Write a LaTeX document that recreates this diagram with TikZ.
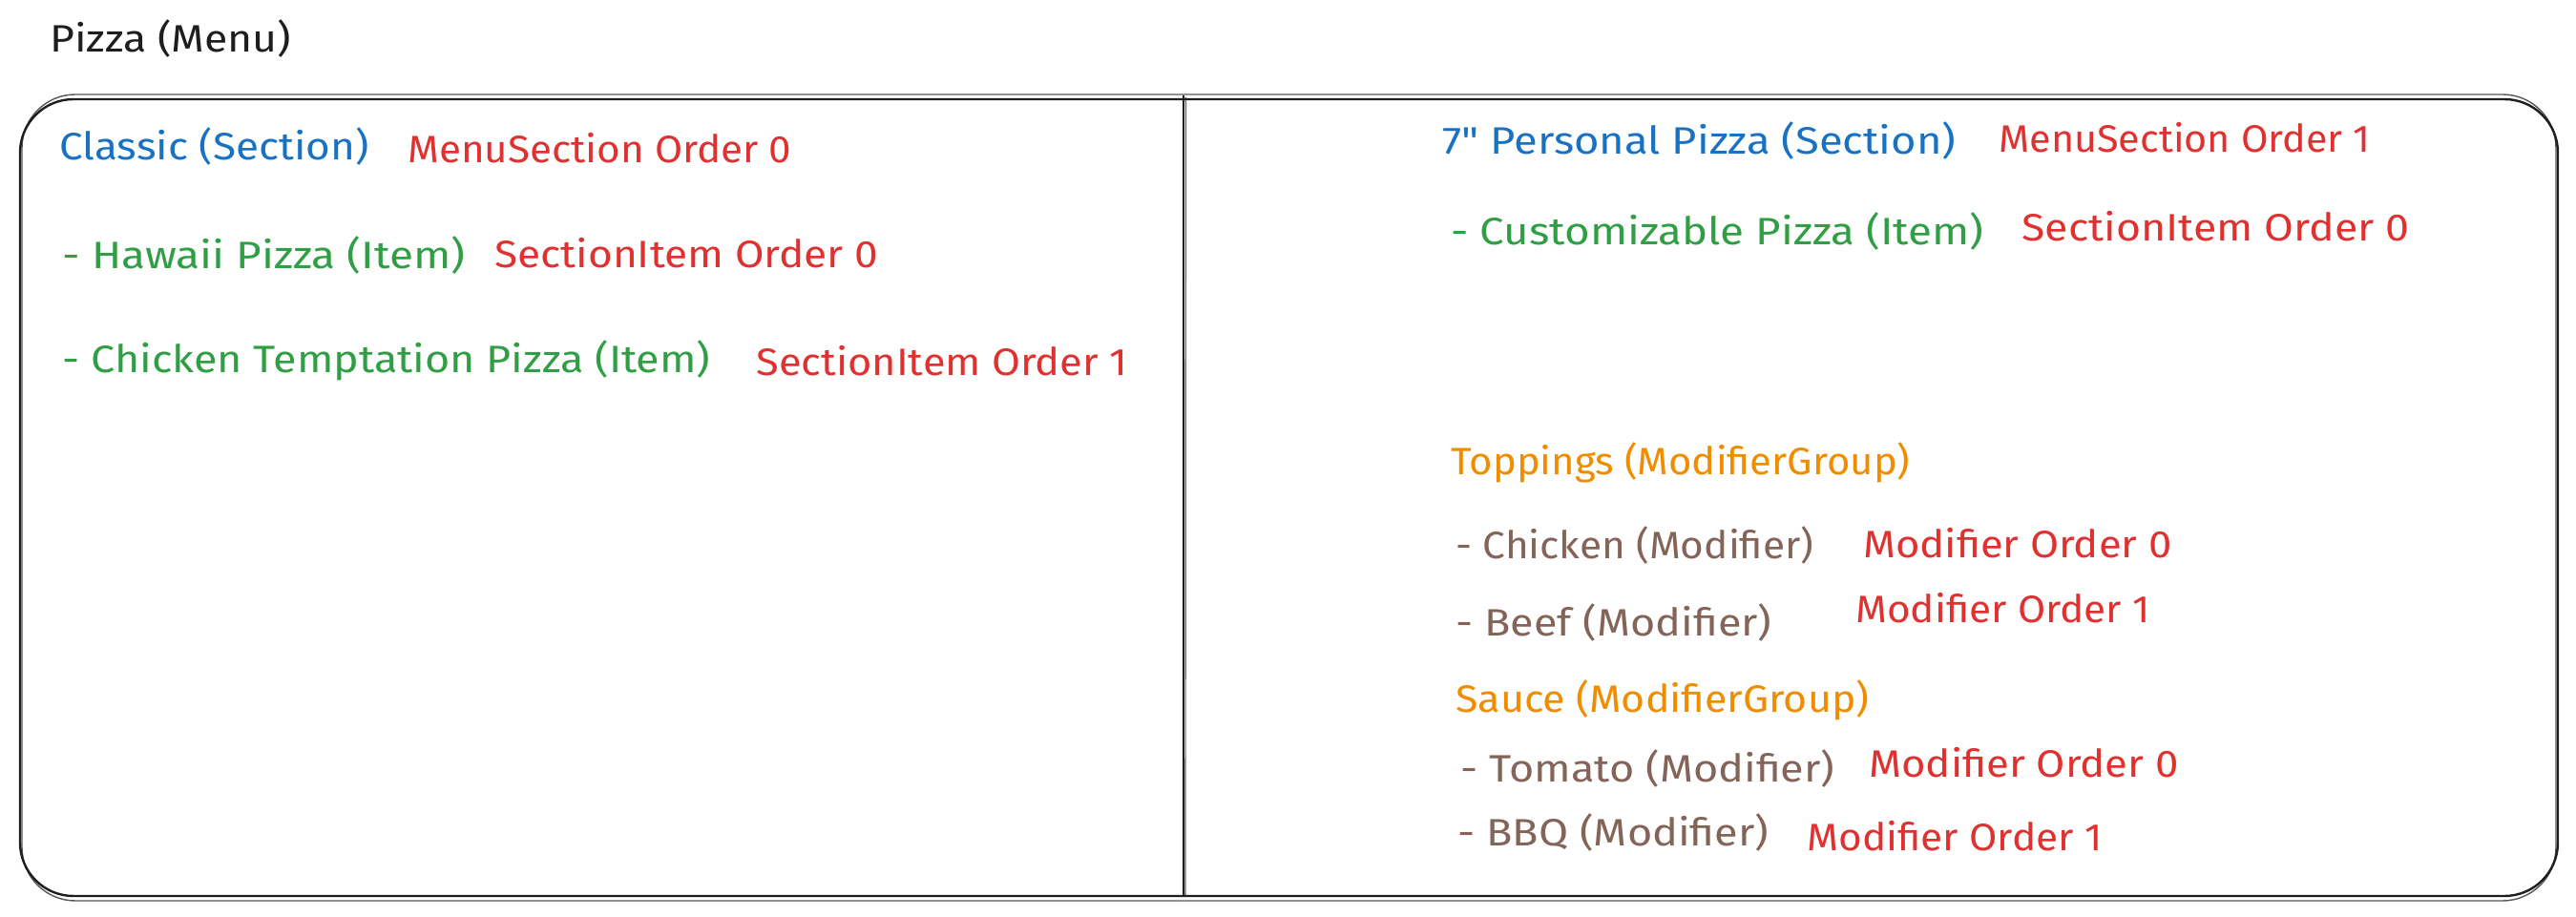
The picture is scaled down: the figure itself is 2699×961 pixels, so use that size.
\documentclass[tikz,border=0pt]{standalone}
\usepackage{fontspec}
\usepackage{graphicx}
\setmainfont{Fira Sans}
\newfontfamily\rawfira{Fira Sans}[Ligatures=TeXOff]
\definecolor{inkblack}{HTML}{1E1E1E}
\definecolor{exblue}{HTML}{1971C2}
\definecolor{exred}{HTML}{E03131}
\definecolor{exgreen}{HTML}{2F9E44}
\definecolor{exorange}{HTML}{F08C00}
\definecolor{exbrown}{HTML}{846358}
\newcommand\fitw[2]{\resizebox{#1}{\height}{#2}}
\tikzset{
  lbl/.style={anchor=base west, inner sep=0pt, font=\fontsize{20pt}{24pt}\selectfont},
  menu/.style={lbl, text=inkblack},
  sect/.style={lbl, text=exblue},
  item/.style={lbl, text=exgreen},
  ord/.style={lbl, text=exred},
  grp/.style={lbl, text=exorange},
  modi/.style={lbl, text=exbrown},
  roughmain/.style={draw=inkblack, line width=1.2pt, rounded corners=28pt},
  roughsec/.style={draw=inkblack, line width=0.7pt, rounded corners=28pt, opacity=0.75},
}
\begin{document}
\begin{tikzpicture}[x=0.5pt,y=-0.5pt]
\useasboundingbox (0,0) rectangle (2699,961);
% outer box (sketchy double stroke)
\draw[roughmain] (21,104) rectangle (2680,939);
\draw[roughsec] (23,99) rectangle (2678,944);
% divider
\draw[draw=inkblack, line width=0.9pt] (1240,100) coordinate (dtop) -- (1240,940) coordinate (dbot);
\draw[draw=inkblack, line width=0.6pt, opacity=0.7] (1242.5,102) -- (1242,938);
% title
\node[menu] (title) at (52,55) {\fitw{126.5pt}{Pizza (Menu)}};
% left column
\node[sect] (classic) at (62,168) {\fitw{162pt}{Classic (Section)}};
\node[ord] (classico) at (427,171) {\fitw{201pt}{MenuSection Order 0}};
\node[item] (hawaii) at (65,282) {\fitw{211pt}{- Hawaii Pizza (Item)}};
\node[ord] (hawaiio) at (518,281) {\fitw{201pt}{SectionItem Order 0}};
\node[item] (chick) at (65,391) {\fitw{339.5pt}{- Chicken Temptation Pizza (Item)}};
\node[ord] (chicko) at (792,394) {\fitw{194.5pt}{SectionItem Order 1}};
% right column
\node[sect] (personal) at (1511,162) {\fitw{269pt}{7{\rawfira "} Personal Pizza (Section)}};
\node[ord] (personalo) at (2094,160) {\fitw{194.5pt}{MenuSection Order 1}};
\node[item] (custom) at (1520,257) {\fitw{279pt}{- Customizable Pizza (Item)}};
\node[ord] (customo) at (2118,253) {\fitw{203pt}{SectionItem Order 0}};
\node[grp] (toppings) at (1520,498) {\fitw{240.5pt}{Toppings (ModifierGroup)}};
\node[modi] (chicken) at (1525,586) {\fitw{187.5pt}{- Chicken (Modifier)}};
\node[ord] (chickeno) at (1952,585) {\fitw{161.5pt}{Modifier Order 0}};
\node[modi] (beef) at (1525,667) {\fitw{165.5pt}{- Beef (Modifier)}};
\node[ord] (beefo) at (1944,653) {\fitw{154pt}{Modifier Order 1}};
\node[grp] (sauce) at (1525,747) {\fitw{216.5pt}{Sauce (ModifierGroup)}};
\node[modi] (tomato) at (1530,820) {\fitw{196pt}{- Tomato (Modifier)}};
\node[ord] (tomatoo) at (1958,815) {\fitw{162pt}{Modifier Order 0}};
\node[modi] (bbq) at (1527,887) {\fitw{163pt}{- BBQ (Modifier)}};
\node[ord] (bbqo) at (1893,892) {\fitw{154.5pt}{Modifier Order 1}};
\end{tikzpicture}
\end{document}
